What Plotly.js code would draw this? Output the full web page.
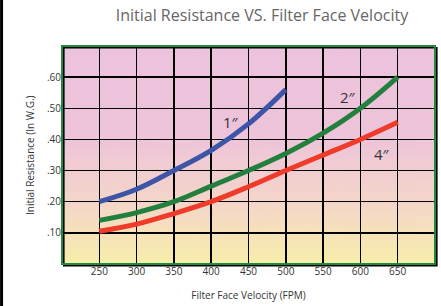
<!DOCTYPE html>
<html>
<head>
<meta charset="utf-8">
<script src="https://cdn.plot.ly/plotly-3.0.1.min.js"></script>
<style>html,body{margin:0;padding:0;background:#fff;}#chart{width:441px;height:306px;}</style>
</head>
<body>
<div id="chart"></div>
<script>
// Data
var velocity1 = [250, 300, 350, 400, 450, 500];
var resistance1 = [0.200, 0.240, 0.300, 0.365, 0.450, 0.560];
var velocity2 = [250, 300, 350, 400, 450, 500, 550, 600, 650];
var resistance2 = [0.140, 0.165, 0.200, 0.250, 0.300, 0.355, 0.420, 0.500, 0.600];
var velocity4 = [250, 300, 350, 400, 450, 500, 550, 600, 650];
var resistance4 = [0.105, 0.128, 0.162, 0.200, 0.248, 0.300, 0.350, 0.400, 0.455];
var xTicks = [250, 300, 350, 400, 450, 500, 550, 600, 650];
var yTicks = [0.1, 0.2, 0.3, 0.4, 0.5, 0.6];
var yTickText = ['.10', '.20', '.30', '.40', '.50', '.60'];
var seriesLabels = ['1\u2033', '2\u2033', '4\u2033'];

// background gradient image
var cv = document.createElement('canvas');
cv.width = 10; cv.height = 220;
var ctx = cv.getContext('2d');
var g = ctx.createLinearGradient(0, 0, 0, 220);
g.addColorStop(0, '#EDC2DD');
g.addColorStop(0.42, '#EEC4DA');
g.addColorStop(0.72, '#F4D6C9');
g.addColorStop(0.90, '#F7E6B6');
g.addColorStop(1, '#F8EEAB');
ctx.fillStyle = g;
ctx.fillRect(0, 0, 10, 220);
var bg = cv.toDataURL();

var lineW = 5;
var traces = [
  {x: velocity1, y: resistance1, mode: 'lines', line: {color: '#3C55A6', width: lineW, shape: 'spline'}, hoverinfo: 'none'},
  {x: velocity2, y: resistance2, mode: 'lines', line: {color: '#237F3D', width: lineW, shape: 'spline'}, hoverinfo: 'none'},
  {x: velocity4, y: resistance4, mode: 'lines', line: {color: '#EE3B2A', width: lineW, shape: 'spline'}, hoverinfo: 'none'}
];

var plotW = 373, plotH = 218;
var dx = 1.8 / plotW, dy = 1.8 / plotH;
var tickFont = {family: 'Open Sans, sans-serif', size: 10, color: '#333'};
var layout = {
  width: 441, height: 306,
  margin: {l: 62, r: 6, t: 46, b: 42},
  paper_bgcolor: '#fff',
  plot_bgcolor: 'rgba(0,0,0,0)',
  showlegend: false,
  title: {text: 'Initial Resistance VS. Filter Face Velocity', font: {family: 'Open Sans, sans-serif', size: 16, color: '#666'}, x: 0.594, xanchor: 'center', y: 0.95, yanchor: 'middle'},
  xaxis: {
    range: [200, 700], tickvals: xTicks, ticktext: xTicks.map(String),
    showgrid: true, gridcolor: '#000', gridwidth: 1.5, zeroline: false,
    showline: false,
    ticks: '', tickfont: tickFont,
    title: {text: 'Filter Face Velocity (FPM)', font: {family: 'Open Sans, sans-serif', size: 10, color: '#333'}, standoff: 14},
    fixedrange: true
  },
  yaxis: {
    range: [0, 0.7], tickvals: yTicks, ticktext: yTickText,
    showgrid: true, gridcolor: '#000', gridwidth: 1.5, zeroline: false,
    showline: false,
    ticks: '', tickfont: tickFont,
    fixedrange: true
  },
  images: [{source: bg, xref: 'paper', yref: 'paper', x: 0, y: 1, sizex: 1, sizey: 1, sizing: 'stretch', xanchor: 'left', yanchor: 'top', layer: 'below'}],
  shapes: [
    {type: 'rect', xref: 'paper', yref: 'paper', x0: dx, x1: 1 + dx, y0: -dy, y1: 1 - dy, line: {color: '#000', width: 1.6}, layer: 'above'},
    {type: 'rect', xref: 'paper', yref: 'paper', x0: 0, x1: 1, y0: 0, y1: 1, line: {color: '#1E8A3A', width: 2}, layer: 'above'},
    {type: 'line', xref: 'paper', yref: 'paper', x0: -0.162, x1: -0.162, y0: -0.2, y1: 1.22, line: {color: '#000', width: 3}}
  ],
  annotations: [
    {x: 426, y: 0.457, text: seriesLabels[0], showarrow: false, font: {family: 'Open Sans, sans-serif', size: 15, color: '#333'}},
    {x: 584, y: 0.537, text: seriesLabels[1], showarrow: false, font: {family: 'Open Sans, sans-serif', size: 15, color: '#333'}},
    {x: 629, y: 0.354, text: seriesLabels[2], showarrow: false, font: {family: 'Open Sans, sans-serif', size: 15, color: '#333'}},
    {xref: 'paper', yref: 'paper', x: -32 / plotW, y: 0.5, xanchor: 'center', yanchor: 'middle', textangle: -90, showarrow: false,
     text: 'Initial Resistance (In W.G.)', font: {family: 'Open Sans, sans-serif', size: 10, color: '#333'}}
  ]
};
Plotly.newPlot('chart', traces, layout, {displayModeBar: false, staticPlot: true});
</script>
</body>
</html>
